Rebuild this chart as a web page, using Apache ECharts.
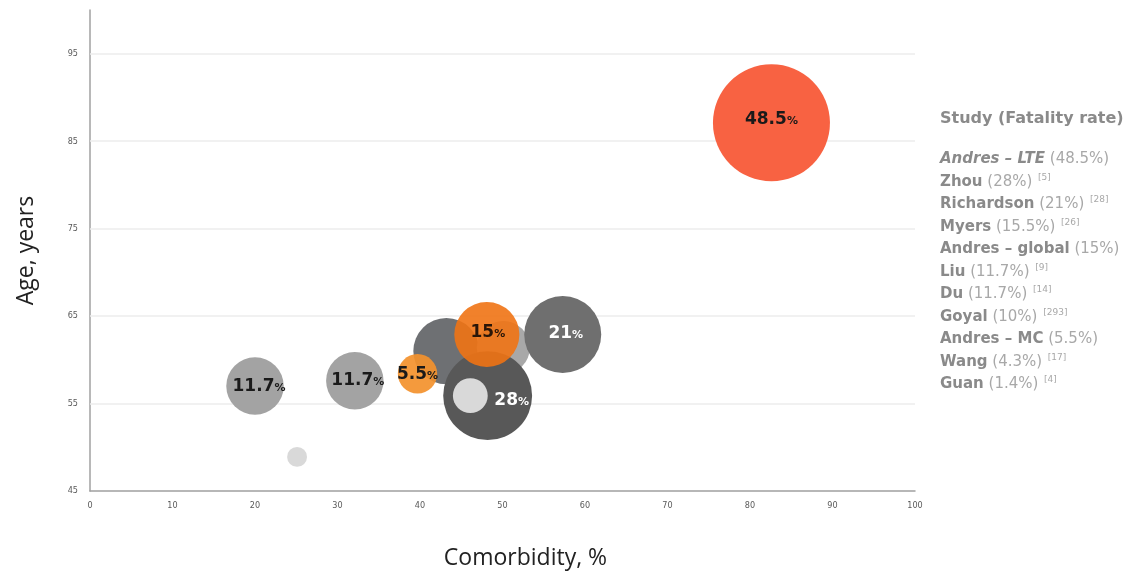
<!DOCTYPE html>
<html>
<head>
<meta charset="utf-8">
<script src="https://cdn.jsdelivr.net/npm/echarts@6/dist/echarts.min.js"></script>
<style>
  html, body { margin: 0; padding: 0; background: #ffffff; }
  #chart { width: 1146px; height: 571px; }
</style>
</head>
<body>
<div id="chart"></div>
<script>
// ---- Data (legend order) ----
const studies     = ['Andres – LTE', 'Zhou', 'Richardson', 'Myers', 'Andres – global', 'Liu', 'Du', 'Goyal', 'Andres – MC', 'Wang', 'Guan'];
const fatality    = [48.5, 28, 21, 15.5, 15, 11.7, 11.7, 10, 5.5, 4.3, 1.4];
const references  = ['', '5', '28', '26', '', '9', '14', '293', '', '17', '4'];
const comorbidity = [82.6, 48.2, 57.3, 43.2, 48.1, 20.0, 32.1, 50.1, 39.7, 46.1, 25.1];
const age         = [87.1, 55.9, 62.9, 61.0, 62.9, 57.0, 57.6, 61.4, 58.4, 55.9, 48.9];

const xTicks = [0, 10, 20, 30, 40, 50, 60, 70, 80, 90, 100];
const yTickLabels = [45, 55, 65, 75, 85, 95];

// ---- Styles (kept separate from data) ----
const drawOrder = ['Guan', 'Liu', 'Du', 'Myers', 'Goyal', 'Zhou', 'Wang', 'Andres – global', 'Andres – MC', 'Richardson', 'Andres – LTE'];
const bubbleColor = {
  'Andres – LTE': '#f86242',
  'Zhou': '#585858',
  'Richardson': '#6f6f6f',
  'Myers': '#6e7073',
  'Andres – global': 'rgba(240,115,20,0.9)',
  'Liu': '#a3a3a3',
  'Du': '#a3a3a3',
  'Goyal': '#a8a8a8',
  'Andres – MC': 'rgba(243,145,45,0.92)',
  'Wang': '#d9d9d9',
  'Guan': '#d9d9d9'
};
const labelStyle = {
  'Andres – LTE':    { color: '#1a1a1a', offset: [0, -3] },
  'Zhou':            { color: '#ffffff', offset: [24, 5] },
  'Richardson':      { color: '#ffffff', offset: [3, -1] },
  'Andres – global': { color: '#2a1608', offset: [1, -2] },
  'Liu':             { color: '#1a1a1a', offset: [4, 1] },
  'Du':              { color: '#1a1a1a', offset: [3, 0] },
  'Andres – MC':     { color: '#1a1a1a', offset: [0, 1] }
};
const italicNames = { 'Andres – LTE': true };
const FONT = '"DejaVu Sans", sans-serif';

function bubbleSize(rate) { return 16.8 * Math.sqrt(rate); }

const bubbleData = drawOrder.map(function (name) {
  const i = studies.indexOf(name);
  const ls = labelStyle[name];
  const item = {
    name: name,
    value: [comorbidity[i], age[i], fatality[i]],
    itemStyle: { color: bubbleColor[name], opacity: 1 },
    label: { show: false }
  };
  if (ls) {
    item.label = {
      show: true,
      position: 'inside',
      offset: ls.offset,
      formatter: function (p) { return '{n|' + p.value[2] + '}{p|%}'; },
      rich: {
        n: { fontFamily: FONT, fontWeight: 'bold', fontSize: 17, color: ls.color },
        p: { fontFamily: FONT, fontWeight: 'bold', fontSize: 11, color: ls.color, padding: [3, 0, 0, 0] }
      }
    };
  }
  return item;
});

// legend text built from the data arrays
const legendLines = studies.map(function (name, i) {
  const nameStyle = italicNames[name] ? 'bi' : 'b';
  let s = '{' + nameStyle + '|' + name + '}{r| (' + fatality[i] + '%)}';
  if (references[i]) s += '{s|  [' + references[i] + ']}';
  return s;
}).join('\n');

const chart = echarts.init(document.getElementById('chart'), null, { renderer: 'canvas' });

chart.setOption({
  animation: false,
  backgroundColor: '#ffffff',
  title: [
    {
      text: 'Study (Fatality rate)',
      left: 940, top: 111, padding: 0,
      textStyle: { fontFamily: FONT, fontWeight: 'bold', fontSize: 16, color: '#8a8a8a' }
    },
    {
      text: legendLines,
      left: 940, top: 148, padding: 0,
      textStyle: {
        lineHeight: 22.5,
        fontWeight: 'normal',
        rich: {
          b:  { fontFamily: FONT, fontWeight: 'bold', fontSize: 15, color: '#8a8a8a', lineHeight: 22.5 },
          bi: { fontFamily: FONT, fontWeight: 'bold', fontStyle: 'italic', fontSize: 15, color: '#8a8a8a', lineHeight: 22.5 },
          r:  { fontFamily: FONT, fontWeight: 'normal', fontSize: 15, color: '#a8a8a8', lineHeight: 22.5 },
          s:  { fontFamily: FONT, fontWeight: 'normal', fontSize: 9, color: '#a8a8a8', lineHeight: 22.5, padding: [0, 0, 9, 0] }
        }
      }
    }
  ],
  grid: { left: 90, right: 231, top: 10, bottom: 80, containLabel: false, outerBoundsMode: 'none' },
  xAxis: {
    type: 'value',
    min: xTicks[0], max: xTicks[xTicks.length - 1], interval: 10,
    name: 'Comorbidity, %',
    nameLocation: 'middle',
    nameGap: 56,
    nameTextStyle: { fontFamily: '"Open Sans", sans-serif', fontSize: 23, color: '#222222', padding: [0, 0, 0, 46] },
    axisLine: { show: true, lineStyle: { color: '#a0a0a0', width: 1.5 } },
    axisTick: { show: false },
    splitLine: { show: false },
    axisLabel: { fontFamily: '"Liberation Sans Narrow", "DejaVu Sans Condensed", sans-serif', fontSize: 9, color: '#595959', margin: 10 }
  },
  yAxis: {
    type: 'value',
    min: 45, max: 100, interval: 5,
    name: 'Age, years',
    nameLocation: 'middle',
    nameGap: 52,
    nameRotate: 90,
    nameTextStyle: { fontFamily: '"Open Sans", sans-serif', fontSize: 23, color: '#222222' },
    axisLine: { show: true, lineStyle: { color: '#a0a0a0', width: 1.5 } },
    axisTick: { show: false },
    splitLine: { show: false },
    axisLabel: {
      fontFamily: '"Liberation Sans Narrow", "DejaVu Sans Condensed", sans-serif', fontSize: 9, color: '#595959', margin: 12,
      formatter: function (v) { return yTickLabels.indexOf(v) >= 0 ? String(v) : ''; }
    }
  },
  series: [
    {
      type: 'scatter',
      name: 'grid',
      z: 1,
      data: [],
      markLine: {
        silent: true,
        symbol: 'none',
        z: 1,
        label: { show: false },
        lineStyle: { color: '#ededed', width: 1.5, type: 'solid' },
        data: yTickLabels.filter(function (v) { return v > 45; }).map(function (v) { return { yAxis: v }; })
      }
    },
    {
      type: 'scatter',
      name: 'Studies',
      z: 3,
      symbol: 'circle',
      symbolSize: function (val) { return bubbleSize(val[2]); },
      data: bubbleData,
      emphasis: { disabled: true }
    }
  ]
});
</script>
</body>
</html>
